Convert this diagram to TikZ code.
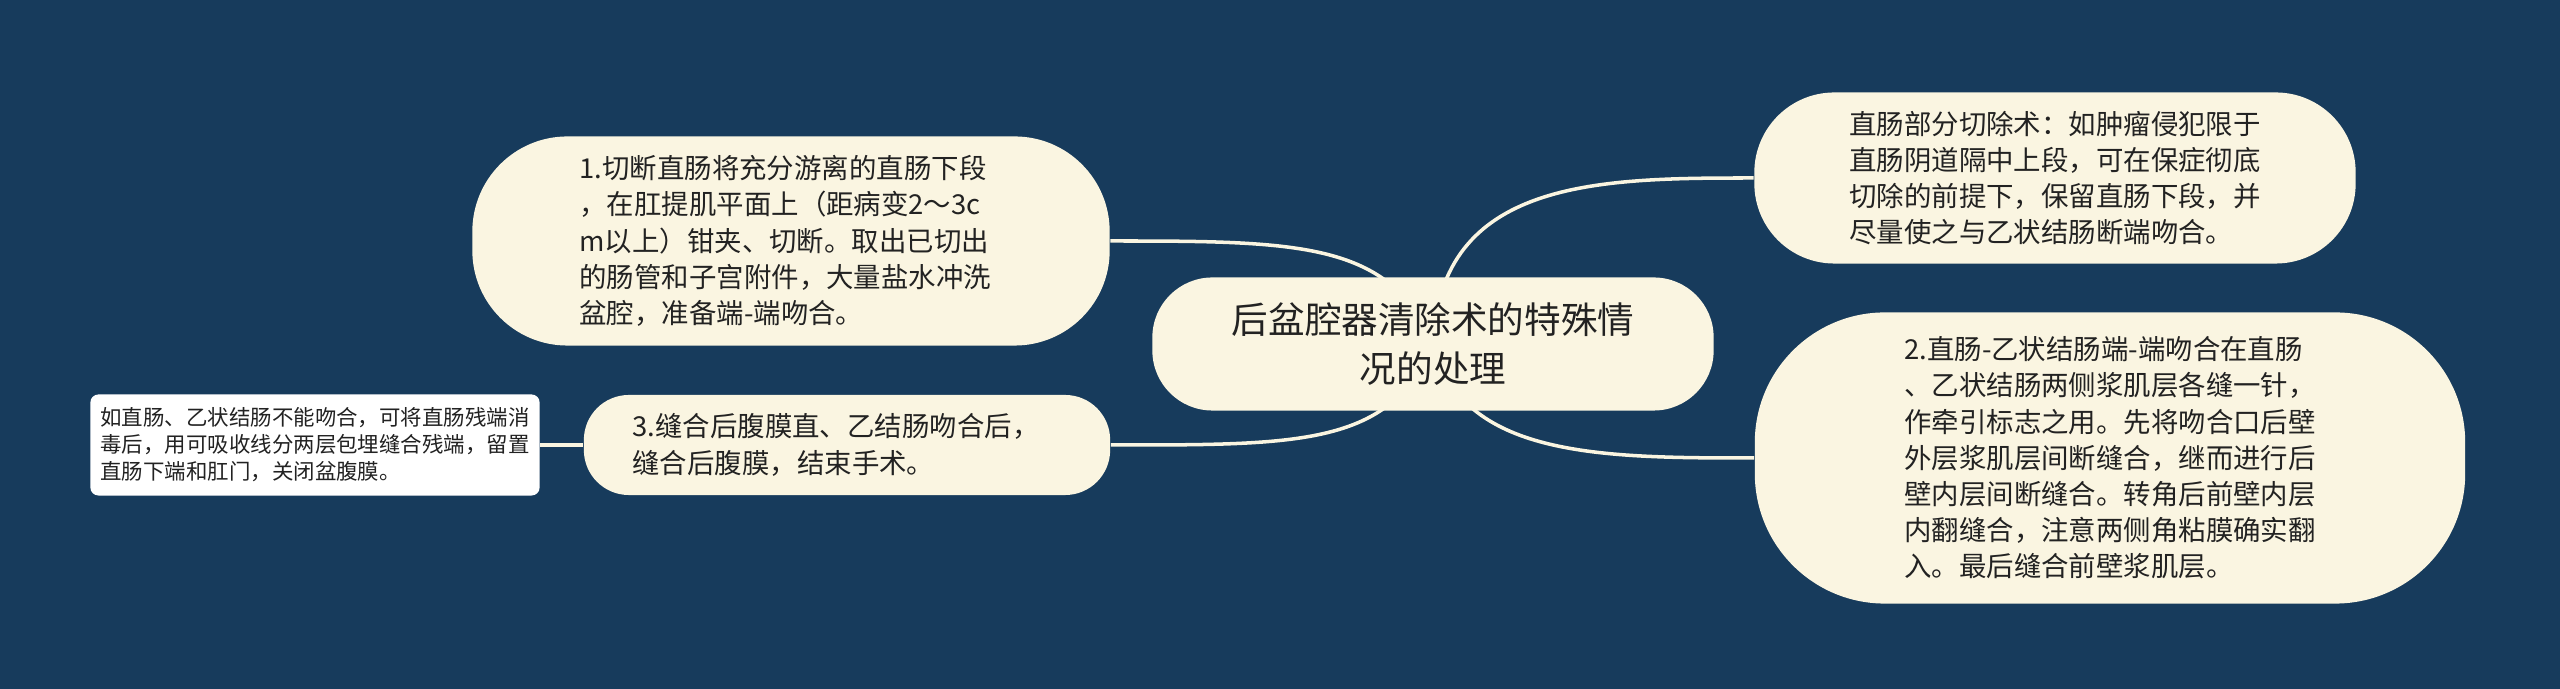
\documentclass[tikz,border=0pt]{standalone}
\usepackage{fontspec}
\setmainfont{Noto Sans CJK SC}
\usetikzlibrary{backgrounds}
\definecolor{mapbg}{HTML}{173B5C}
\definecolor{mapcream}{HTML}{FAF5E1}
\definecolor{maptext}{HTML}{222222}
\tikzset{
  topic/.style={fill=mapcream, text=maptext, align=left, inner sep=0pt,
    font=\fontsize{7.8pt}{10.3pt}\selectfont},
  leafbox/.style={fill=white, text=maptext, align=left, inner sep=0pt,
    rounded corners=0.08cm, font=\fontsize{6.1pt}{7.7pt}\selectfont},
  branch/.style={draw=mapcream, line width=1pt},
}

\begin{document}
\begin{tikzpicture}[x=0.01cm,y=-0.01cm]
		%%%%% NODES %%%%%
		\node[topic, align=center, minimum width=5.61cm, minimum height=1.33cm, rounded corners=0.6cm,
		  font=\fontsize{10.4pt}{14pt}\selectfont] (root) at (1433, 344) {后盆腔器清除术的特殊情\\况的处理};
		
		\node[topic, minimum width=6.37cm, minimum height=2.09cm, rounded corners=0.95cm] (cut) at (791, 241)
		  {1.切断直肠将充分游离的直肠下段\hspace*{0.16cm}\\，在肛提肌平面上（距病变2～3c\\m以上）钳夹、切断。取出已切出\\的肠管和子宫附件，大量盐水冲洗\\盆腔，准备端-端吻合。};
		
		\node[topic, minimum width=5.26cm, minimum height=1.0cm, rounded corners=0.45cm] (suture) at (847, 445)
		  {3.缝合后腹膜直、乙结肠吻合后，\hspace*{0.22cm}\\缝合后腹膜，结束手术。};
		
		\node[leafbox, minimum width=4.49cm, minimum height=1.01cm] (stump) at (315, 445)
		  {如直肠、乙状结肠不能吻合，可将直肠残端消\\毒后，用可吸收线分两层包埋缝合残端，留置\\直肠下端和肛门，关闭盆腹膜。};
		
		\node[topic, minimum width=6.01cm, minimum height=1.71cm, rounded corners=0.8cm] (partial) at (2055, 178)
		  {直肠部分切除术：如肿瘤侵犯限于\\直肠阴道隔中上段，可在保症彻底\\切除的前提下，保留直肠下段，并\\尽量使之与乙状结肠断端吻合。};
		
		\node[topic, minimum width=7.10cm, minimum height=2.91cm, rounded corners=1.3cm] (anast) at (2110, 458)
		  {2.直肠-乙状结肠端-端吻合在直肠\\、乙状结肠两侧浆肌层各缝一针，\\作牵引标志之用。先将吻合口后壁\\外层浆肌层间断缝合，继而进行后\\壁内层间断缝合。转角后前壁内层\\内翻缝合，注意两侧角粘膜确实翻\\入。最后缝合前壁浆肌层。};
		
		%%%%% BRANCHES %%%%%
		\begin{scope}[on background layer]
		\fill[mapbg] (0, 0) rectangle (2560, 689);
		\draw[branch] (root.center) .. controls +(-43, -102) and +(190, 0) .. (cut.east);
		\draw[branch] (root.center) .. controls +(-43, 102) and +(190, 0) .. (suture.east);
		\draw[branch] (root.center) .. controls +(7, -165) and +(-155, 0) .. (partial.west);
		\draw[branch] (root.center) .. controls +(29, 113) and +(-155, 0) .. (anast.west);
		\draw[branch] (stump.east) -- (suture.west);
		\end{scope}
	\end{tikzpicture}
\end{document}
